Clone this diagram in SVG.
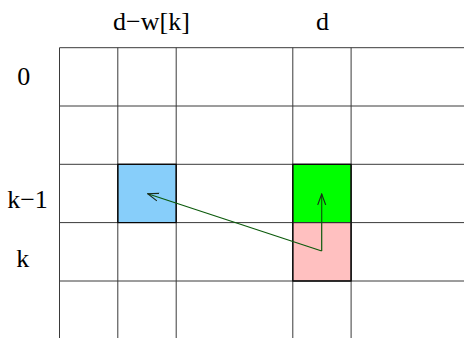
<svg xmlns="http://www.w3.org/2000/svg" width="464" height="338" viewBox="0 0 464 338">
<style>
.grid{stroke:#3a3a3a;stroke-width:1;fill:none}
.cell{stroke:#000;stroke-width:1}
.lbl{font-size:26px;fill:#000;text-anchor:middle}
.conn{stroke:#0b5a0b;stroke-width:1.2;fill:none}
</style>
<defs>
<marker id="ah" viewBox="0 0 12 10" refX="11" refY="5" markerWidth="12" markerHeight="10" markerUnits="userSpaceOnUse" orient="auto">
<path d="M0,1 L11,5 L0,9" fill="none" stroke="#1a2a1a" stroke-width="1.1"/>
</marker>
</defs>
<rect width="464" height="338" fill="#fff"/>
<g id="cells">
<rect id="blue" class="cell" x="117.8" y="164.3" width="58.4" height="58.3" fill="#87cefa"/>
<rect id="green" class="cell" x="292.8" y="164.3" width="58.3" height="58.3" fill="#00ff00"/>
<rect id="pink" class="cell" x="292.8" y="222.6" width="58.3" height="58.4" fill="#ffc0c0"/>
</g>
<g id="grid" class="grid">
<line x1="59.5" y1="47.7" x2="464" y2="47.7"/>
<line x1="59.5" y1="106" x2="464" y2="106"/>
<line x1="59.5" y1="164.3" x2="464" y2="164.3"/>
<line x1="59.5" y1="222.6" x2="464" y2="222.6"/>
<line x1="59.5" y1="281" x2="464" y2="281"/>
<line x1="59.5" y1="47.7" x2="59.5" y2="338"/>
<line x1="117.8" y1="47.7" x2="117.8" y2="338"/>
<line x1="176.2" y1="47.7" x2="176.2" y2="338"/>
<line x1="292.8" y1="47.7" x2="292.8" y2="338"/>
<line x1="351.1" y1="47.7" x2="351.1" y2="338"/>
</g>
<g id="outline" fill="none" stroke="#000" stroke-width="1">
<rect x="117.8" y="164.3" width="58.4" height="58.3"/>
<rect x="292.8" y="164.3" width="58.3" height="116.7"/>
</g>
<g id="connectors">
<line class="conn" x1="321.7" y1="251" x2="147.7" y2="193.7" marker-end="url(#ah)"/>
<line class="conn" x1="321.7" y1="251" x2="321.7" y2="194" marker-end="url(#ah)"/>
</g>
<g id="labels" font-family="'Liberation Serif', 'Times New Roman', 'DejaVu Serif', serif">
<text class="lbl" x="151.5" y="30">d−w[k]</text>
<text class="lbl" x="322.5" y="30">d</text>
<text class="lbl" x="23.8" y="85">0</text>
<text class="lbl" x="27.5" y="208">k−1</text>
<text class="lbl" x="22.7" y="267">k</text>
</g>
</svg>
